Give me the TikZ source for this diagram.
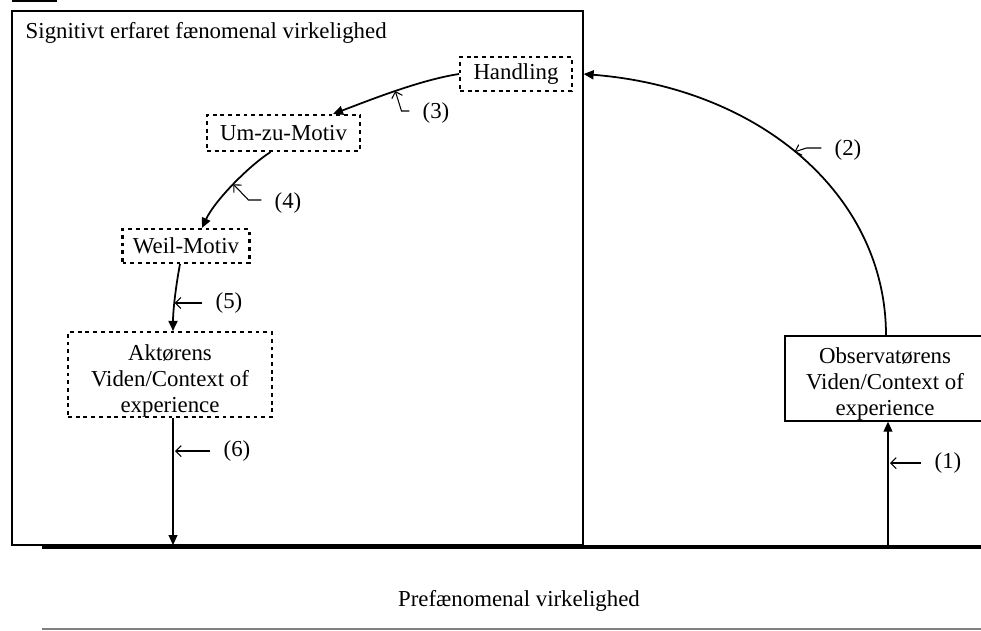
\documentclass[tikz,border=0pt]{standalone}
\usepackage{fontspec}
\setmainfont{Liberation Serif}
\usepackage{xcolor}
\usepackage{tikz}
\usetikzlibrary{calc,arrows.meta}
\definecolor{ink}{HTML}{000000}
\definecolor{rule}{HTML}{808080}
\newcommand\fsz{\fontsize{13}{14.6}\selectfont}
\tikzset{
  frame/.style={draw=ink, line width=0.8pt, inner sep=0pt},
  dbox/.style={draw=ink, dash pattern=on 2.2pt off 2.2pt, line width=1.2pt, align=center, font=\fsz, inner sep=0pt},
  conn/.style={draw=ink, line width=1pt, -{Triangle[length=2mm,width=1.8mm]}},
  lead/.style={draw=ink, line width=0.6pt, -{Straight Barb[length=1.1mm,width=2.2mm]}},
  ground/.style={draw=ink, line width=2.8pt},
  lab/.style={text=ink, font=\fsz},
}

\begin{document}
\begin{tikzpicture}[x=0.02cm, y=-0.02cm]
  \useasboundingbox (0,0) rectangle (981,630);
  \coordinate (gl) at (42,547);
  \coordinate (gr) at (981,547);
  % outer frame
  \draw[ink, line width=1.1pt] (12,1) -- (57,1);
  \node[frame, minimum width=11.42cm, minimum height=10.68cm] (fr) at (297.5,278) {};
  \node[lab, anchor=base west] (title) at (19.5,38) {Signitivt erfaret fænomenal virkelighed};
  % motive chain
  \node[dbox, minimum width=2.24cm, minimum height=0.68cm] (handling) at (516,74) {Handling};
  \node[dbox, minimum width=3.06cm, minimum height=0.72cm] (umzu) at (283.5,133) {Um-zu-Motiv};
  \node[dbox, minimum width=2.54cm, minimum height=0.68cm] (weil) at (186,246) {Weil-Motiv};
  \node[dbox, minimum width=4.08cm, minimum height=1.7cm] (aktor) at (170,374.5) {};
  \node[lab, align=center] (aktortxt) at (170,381) {Aktørens\\Viden/Context of\\experience};
  % observer
  \node[frame, minimum width=4.12cm, minimum height=1.7cm] (obsbox) at (888,378.5) {};
  \node[lab, align=center] (obs) at (885,384) {Observatørens\\Viden/Context of\\experience};
  % ground lines
  \draw[ground] (gl) -- (gr);
  \coordinate (rl) at (42,629);
  \coordinate (rr) at (981,629);
  \draw[rule, line width=0.7pt] (rl) -- (rr);
  \node[lab] (pre) at (519,601) {Prefænomenal virkelighed};
  % connectors
  \draw[conn, line width=0.6pt] (obsbox.south |- gl) -- (obsbox.south);
  \draw[conn] ($(obsbox.north)+(-2,0)$) .. controls (886,195) and (760,88) .. (fr.east |- handling.east)
    coordinate[pos=0.52] (t2);
  \draw[conn] (handling.west) .. controls (420,80) and (370,100) .. ($(umzu.north east)+(-28,0)$)
    coordinate[pos=0.5] (t3);
  \draw[conn] ($(umzu.south)+(-13,0)$) .. controls (250,165) and (215,200) .. ($(weil.north)+(16,0)$)
    coordinate[pos=0.5] (t4);
  \draw[conn] ($(weil.south)+(-6,0)$) .. controls (176,285) and (173,310) .. ($(aktor.north)+(3,0)$)
    coordinate[pos=0.55] (t5);
  \draw[conn, line width=0.6pt] ($(aktor.south)+(3,0)$) -- ($(aktor.south |- gl)+(3,-2)$);
  % step labels
  \node[lab] (l1) at (948,463) {(1)};
  \node[lab] (l2) at (848,150) {(2)};
  \node[lab] (l3) at (436,113) {(3)};
  \node[lab] (l4) at (288,203) {(4)};
  \node[lab] (l5) at (229,303) {(5)};
  \node[lab] (l6) at (237,451) {(6)};
  \draw[lead] ($(l1.west)+(-7,0)$) -- ($(obsbox.south |- l1)+(2,0)$);
  \draw[lead] ($(l2.west)+(-7,-2)$) -- ++(-15,0) -- (t2);
  \draw[lead] ($(l3.west)+(-7,-2)$) -- ++(-8,0) -- (t3);
  \draw[lead] ($(l4.west)+(-7,-3)$) -- ++(-13,0) -- (t4);
  \draw[lead] ($(l5.west)+(-7,0)$) -- (t5 |- l5);
  \draw[lead] ($(l6.west)+(-7,0)$) -- ($(aktor.south |- l6)+(5,0)$);
\end{tikzpicture}
\end{document}
